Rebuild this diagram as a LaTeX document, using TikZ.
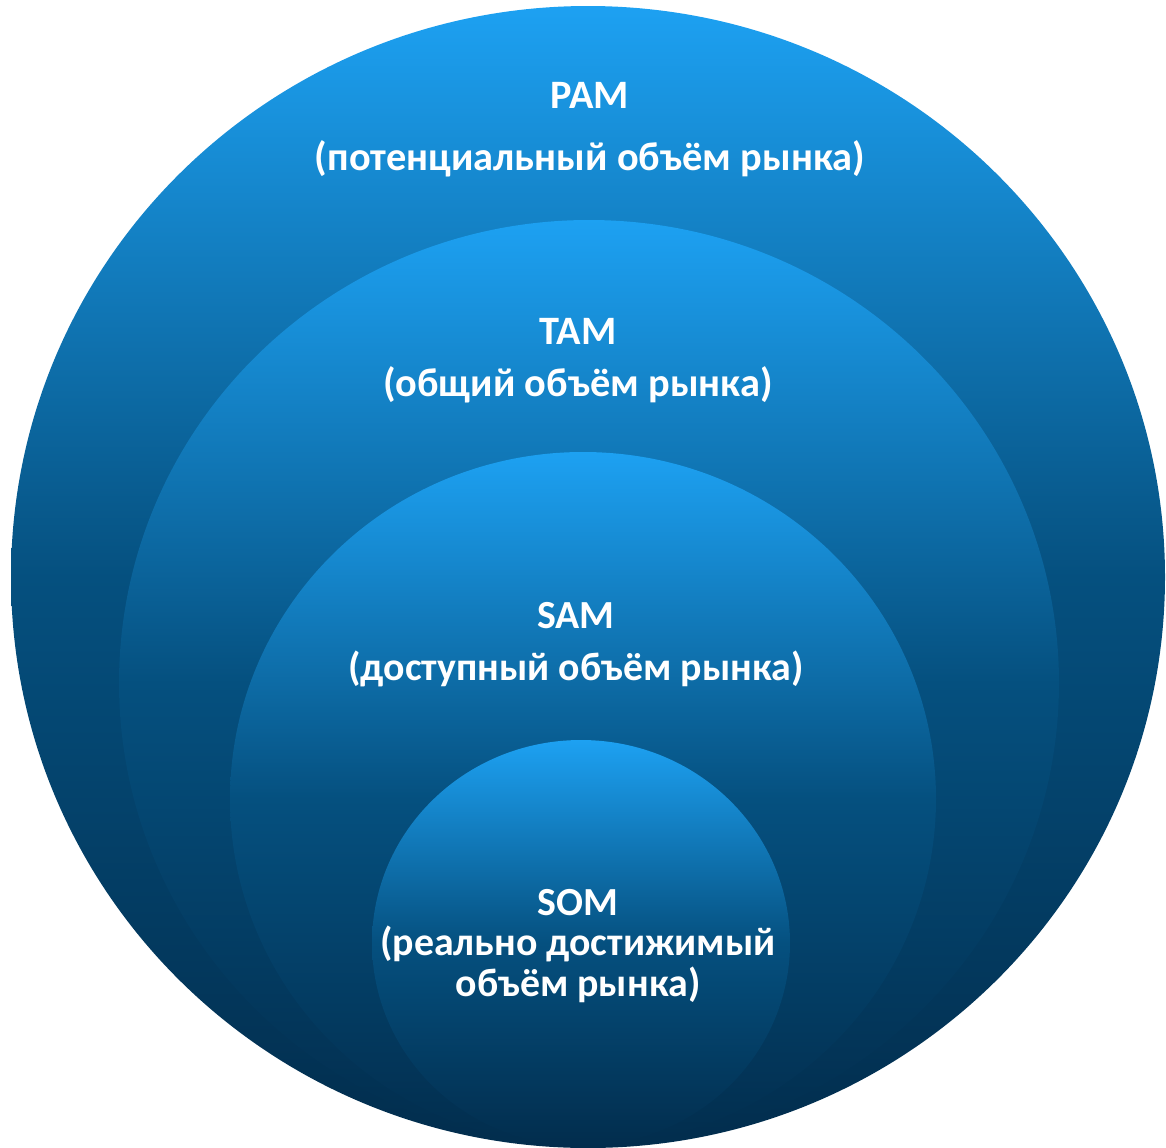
\documentclass[tikz,border=0pt]{standalone}
\usepackage{fontspec}
\setmainfont{Carlito}
\definecolor{gtop}{HTML}{1DA1F2}
\definecolor{gmid}{HTML}{05507F}
\definecolor{gbot}{HTML}{022D4D}
\begin{document}
\begin{tikzpicture}[x=1bp,y=-1bp,
  disc/.style={top color=gtop,bottom color=gbot,middle color=gmid,draw=none},
  lbl/.style={text=white,font=\bfseries,align=center,inner sep=0pt}]
\useasboundingbox (0,0) rectangle (1166,1148);
\shade[disc] (588,577) ellipse [x radius=577,y radius=571];
\shade[disc] (589,683) ellipse [x radius=470,y radius=463];
\shade[disc] (583,799) ellipse [x radius=353,y radius=347];
\shade[disc] (581,943) ellipse [x radius=209,y radius=203];
\node[lbl,font=\bfseries\fontsize{40.5}{62}\selectfont] (pam) at (590,130) {PAM\\(потенциальный объём рынка)};
\node[lbl,font=\bfseries\fontsize{40.5}{52}\selectfont] (tam) at (578,361) {TAM\\(общий объём рынка)};
\node[lbl,font=\bfseries\fontsize{40}{52}\selectfont] (sam) at (576,645) {SAM\\(доступный объём рынка)};
\node[lbl,font=\bfseries\fontsize{40}{41}\selectfont] (som) at (578,946) {SOM\\(реально достижимый\\объём рынка)};
\end{tikzpicture}
\end{document}
